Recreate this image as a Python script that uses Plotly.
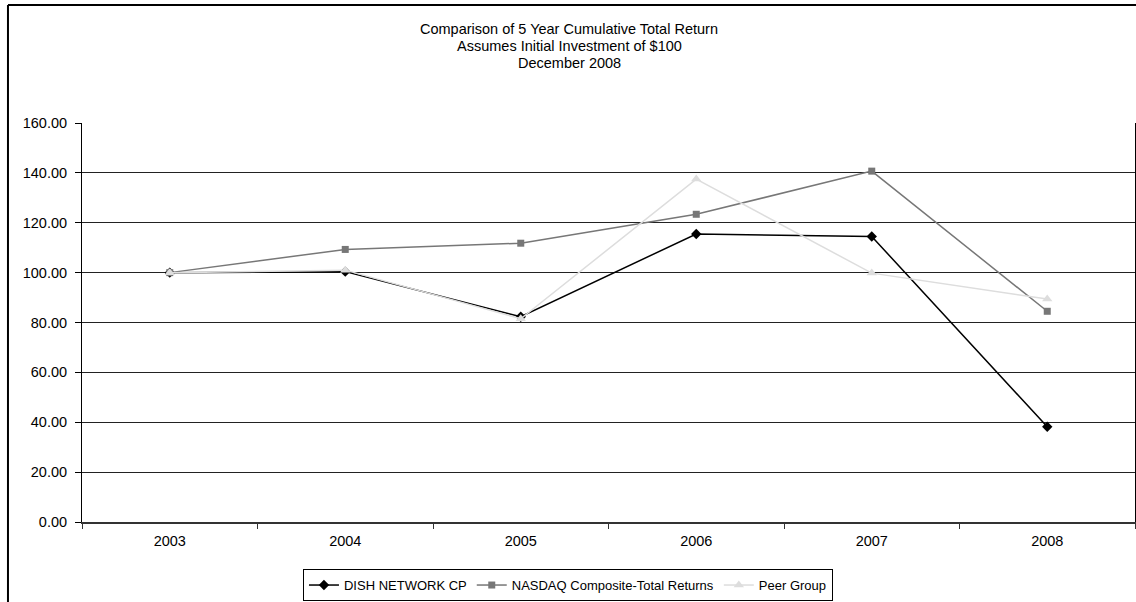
import plotly.graph_objects as go

years = ["2003", "2004", "2005", "2006", "2007", "2008"]
dish = [100.0, 100.4, 82.3, 115.5, 114.5, 38.2]
nasdaq = [100.0, 109.3, 111.8, 123.4, 140.7, 84.5]
peer = [100.0, 101.0, 81.5, 137.5, 99.8, 89.4]

series_names = ["DISH NETWORK CP", "NASDAQ Composite-Total Returns", "Peer Group"]
title_lines = ["Comparison of 5 Year Cumulative Total Return",
               "Assumes Initial Investment of $100",
               "December 2008"]

FONT = "Liberation Sans, Arial, sans-serif"
FS = 14.5

fig = go.Figure()
fig.add_trace(go.Scatter(x=years, y=dish, name=series_names[0], mode="lines+markers",
                         line=dict(color="#000000", width=1.5),
                         marker=dict(symbol="diamond", size=8, color="#000000")))
fig.add_trace(go.Scatter(x=years, y=nasdaq, name=series_names[1], mode="lines+markers",
                         line=dict(color="#777777", width=1.5),
                         marker=dict(symbol="square", size=7, color="#777777")))
fig.add_trace(go.Scatter(x=years, y=peer, name=series_names[2], mode="lines+markers",
                         line=dict(color="#dddddd", width=1.5),
                         marker=dict(symbol="triangle-up", size=9, color="#dddddd")))

title_y = [1.2356, 1.193, 1.150]
annotations = [dict(text=t, xref="paper", yref="paper", x=0.4625, y=yy,
                    xanchor="center", yanchor="middle", showarrow=False,
                    font=dict(size=FS, family=FONT, color="#000000"))
               for t, yy in zip(title_lines, title_y)]

fig.update_layout(
    width=1136, height=602,
    margin=dict(l=82, r=1, t=123, b=80),
    paper_bgcolor="white", plot_bgcolor="white",
    font=dict(family=FONT, size=FS, color="#000000"),
    showlegend=True,
    legend=dict(orientation="h", x=0.4615, xanchor="center", y=-0.118, yanchor="top",
                bordercolor="#000000", borderwidth=1, font=dict(size=13),
                itemwidth=30, tracegroupgap=0),
    annotations=annotations,
    shapes=[
        dict(type="line", xref="paper", yref="paper", x0=-0.0703, x1=-0.0703,
             y0=1.2957, y1=-0.25, line=dict(color="#000000", width=2)),
        dict(type="line", xref="paper", yref="paper", x0=-0.0703, x1=1.01,
             y0=1.2957, y1=1.2957, line=dict(color="#000000", width=2)),
    ],
)
fig.update_xaxes(type="category", range=[-0.5, 5.5], showline=True, linecolor="#333333",
                 linewidth=2, mirror=False, ticks="outside", tickson="boundaries",
                 ticklen=5, tickcolor="#333333", showgrid=False, zeroline=False,
                 tickfont=dict(size=FS), ticklabelstandoff=5)
fig.update_yaxes(range=[0, 160], dtick=20, tickformat=".2f", showline=True,
                 linecolor="#000000", linewidth=1, mirror=True, ticks="outside",
                 ticklen=6, tickcolor="#000000", showgrid=True, gridcolor="#222222",
                 gridwidth=1, zeroline=False, tickfont=dict(size=FS),
                 ticklabelstandoff=5)

fig.write_html("out.html", config={"displayModeBar": False},
               post_script="document.body.style.margin='0px';")
